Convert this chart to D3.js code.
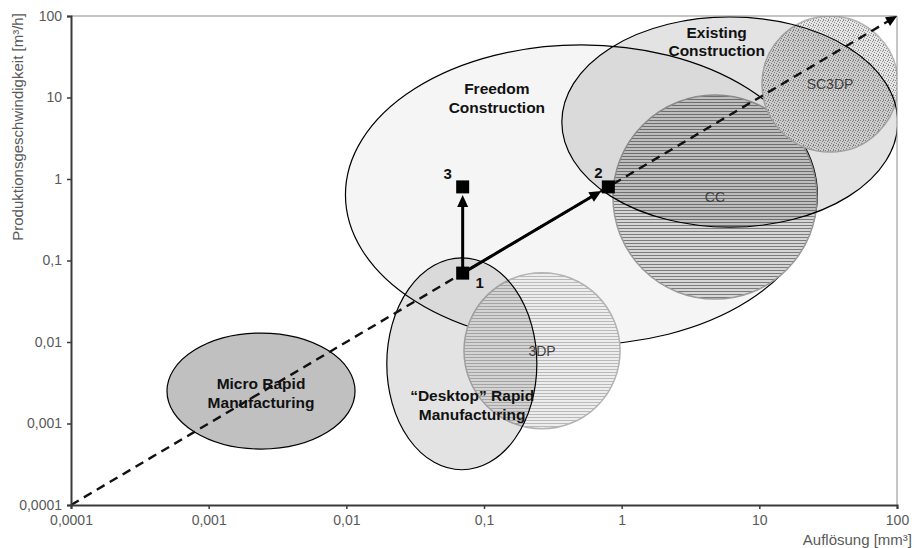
<!DOCTYPE html>
<html>
<head>
<meta charset="utf-8">
<script src="https://cdn.jsdelivr.net/npm/d3@7"></script>
<style>
  html, body { margin: 0; padding: 0; background: #fff; }
  svg { display: block; font-family: Arial, "Liberation Sans", sans-serif; }
</style>
</head>
<body>
<svg id="chart" width="917" height="548"></svg>
<script>
// Axis ticks (log decades) and their German-formatted labels
const tickValues = [0.0001, 0.001, 0.01, 0.1, 1, 10, 100];
const tickLabels = ["0,0001", "0,001", "0,01", "0,1", "1", "10", "100"];

// Manufacturing fields: centre (resolution, speed) and half-extent in decades
const zoneNames   = [["Freedom", "Construction"], ["Existing", "Construction"], ["Micro Rapid", "Manufacturing"], ["\u201CDesktop\u201D Rapid", "Manufacturing"]];
const zoneCentreX = [0.51, 6.1, 0.0024, 0.069];
const zoneCentreY = [0.64, 5.0, 0.0025, 0.0054];
const zoneSpanX   = [1.714, 1.22, 0.683, 0.545];
const zoneSpanY   = [1.84, 1.29, 0.712, 1.30];
const zoneLabelX  = [0.124, 4.9, 0.0024, 0.082];
const zoneLabelY  = [10, 49, 0.0024, 0.0017];

// Process technologies (hatched / stippled discs)
const techNames   = ["CC", "3DP", "SC3DP"];
const techCentreX = [4.76, 0.264, 32.6];
const techCentreY = [0.60, 0.0078, 14.6];
const techSpanX   = [0.741, 0.567, 0.494];
const techSpanY   = [1.252, 0.957, 0.834];

// Development steps 1 → 2 and 1 → 3
const stepNames = ["1", "2", "3"];
const stepX     = [0.07, 0.8, 0.07];
const stepY     = [0.07, 0.8, 0.8];
const stepMoves = [[0, 2], [0, 1]];

// Trend diagonal
const trendX = [0.0001, 100];
const trendY = [0.0001, 100];

const svg = d3.select("#chart");
const margin = { left: 71, right: 20, top: 16, bottom: 43 };
const W = 917, H = 548;

const x = d3.scaleLog().domain([0.0001, 100]).range([margin.left, W - margin.right]);
const y = d3.scaleLog().domain([0.0001, 100]).range([H - margin.bottom, margin.top]);

const fmt = d => tickLabels[tickValues.indexOf(d)];

// ---- fill patterns
const defs = svg.append("defs");
function hatch(id, bg, ink) {
  const p = defs.append("pattern").attr("id", id)
    .attr("patternUnits", "userSpaceOnUse").attr("width", 6).attr("height", 3);
  p.append("rect").attr("width", 6).attr("height", 3).attr("fill", bg);
  p.append("rect").attr("y", 0).attr("width", 6).attr("height", 1).attr("fill", ink);
}
hatch("hatchDark", "#d6d6d6", "#7c7c7c");
hatch("hatchLight", "#ededed", "#b9b9b9");

const stipple = defs.append("pattern").attr("id", "stipple")
  .attr("patternUnits", "userSpaceOnUse").attr("width", 5).attr("height", 5);
stipple.append("rect").attr("width", 5).attr("height", 5).attr("fill", "#e6e6e6");
[[0, 0], [2, 1], [4, 2], [1, 3], [3, 4], [3, 0]].forEach(([dx, dy]) =>
  stipple.append("rect").attr("x", dx).attr("y", dy).attr("width", 1).attr("height", 1)
    .attr("fill", "#8e8e8e"));

const techFill   = ["url(#hatchDark)", "url(#hatchLight)", "url(#stipple)"];
const techStroke = ["#9c9c9c", "#b3b3b3", "#b3b3b3"];

svg.append("clipPath").attr("id", "plotClip").append("rect")
  .attr("x", x(0.0001)).attr("y", y(100))
  .attr("width", x(100) - x(0.0001)).attr("height", y(0.0001) - y(100));
const area = svg.append("g").attr("clip-path", "url(#plotClip)");

// frame: light top/right border
svg.append("path")
  .attr("d", `M${x(0.0001)},${y(100)}H${x(100)}V${y(0.0001)}`)
  .attr("fill", "none").attr("stroke", "#8c8c8c").attr("stroke-width", 1);

function ellipse(g, cx, cy, sx, sy) {
  const px = x(cx), py = y(cy);
  const rx = x(cx * Math.pow(10, sx)) - px;
  const ry = py - y(cy * Math.pow(10, sy));
  return g.append("ellipse").attr("cx", px).attr("cy", py).attr("rx", rx).attr("ry", ry);
}
const zone = i => ellipse(area, zoneCentreX[i], zoneCentreY[i], zoneSpanX[i], zoneSpanY[i]);
const tech = i => ellipse(area, techCentreX[i], techCentreY[i], techSpanX[i], techSpanY[i])
  .attr("fill", techFill[i]).attr("stroke", techStroke[i]).attr("stroke-width", 1.5);

// layering: open field, micro field, technology discs, then translucent fields
zone(0).attr("fill", "#f5f5f5").attr("stroke", "#000").attr("stroke-width", 1.2);
zone(2).attr("fill", "#c0c0c0").attr("stroke", "#000").attr("stroke-width", 1.2);
tech(0); tech(1); tech(2);
zone(1).attr("fill", "rgba(0,0,0,0.11)").attr("stroke", "#000").attr("stroke-width", 1.2);
zone(3).attr("fill", "rgba(0,0,0,0.11)").attr("stroke", "#000").attr("stroke-width", 1.2);

// trend diagonal with arrow head
function head(g, x0, y0, x1, y1, len, half) {
  const a = Math.atan2(y1 - y0, x1 - x0);
  const bx = x1 - len * Math.cos(a), by = y1 - len * Math.sin(a);
  const nx = -Math.sin(a) * half, ny = Math.cos(a) * half;
  g.append("path")
    .attr("d", `M${x1},${y1}L${bx + nx},${by + ny}L${bx - nx},${by - ny}Z`)
    .attr("fill", "#000");
}
{
  const tx0 = x(trendX[0]), ty0 = y(trendY[0]), tx1 = x(trendX[1]), ty1 = y(trendY[1]);
  const a = Math.atan2(ty1 - ty0, tx1 - tx0);
  const ex = tx1 - 9 * Math.cos(a), ey = ty1 - 9 * Math.sin(a);
  svg.append("line").attr("x1", tx0).attr("y1", ty0).attr("x2", ex).attr("y2", ey)
    .attr("stroke", "#111").attr("stroke-width", 2.4).attr("stroke-dasharray", "9,6");
  head(svg, tx0, ty0, tx1, ty1, 11, 5);
}

// step arrows
stepMoves.forEach(([a, b]) => {
  const x0 = x(stepX[a]), y0 = y(stepY[a]);
  const cx = x(stepX[b]), cy = y(stepY[b]);
  const ang = Math.atan2(cy - y0, cx - x0);
  const x1 = cx - 8 * Math.cos(ang), y1 = cy - 8 * Math.sin(ang);
  const bx = x1 - 10 * Math.cos(ang), by = y1 - 10 * Math.sin(ang);
  svg.append("line").attr("x1", x0).attr("y1", y0).attr("x2", bx).attr("y2", by)
    .attr("stroke", "#000").attr("stroke-width", 3);
  head(svg, x0, y0, x1, y1, 12, 5.5);
});

// step markers
svg.selectAll("rect.step").data(stepNames).join("rect").attr("class", "step")
  .attr("x", (d, i) => x(stepX[i]) - 6.5).attr("y", (d, i) => y(stepY[i]) - 6.5)
  .attr("width", 13).attr("height", 13).attr("fill", "#000");
const stepDx = [17, -10, -15], stepDy = [9, -14, -13];
svg.selectAll("text.step").data(stepNames).join("text").attr("class", "step")
  .attr("x", (d, i) => x(stepX[i]) + stepDx[i]).attr("y", (d, i) => y(stepY[i]) + stepDy[i])
  .attr("text-anchor", "middle").attr("dominant-baseline", "central")
  .attr("font-size", 15).attr("font-weight", "bold").attr("fill", "#111").text(d => d);

// technology labels
techNames.forEach((n, i) => {
  svg.append("text").attr("x", x(techCentreX[i])).attr("y", y(techCentreY[i]))
    .attr("text-anchor", "middle").attr("dominant-baseline", "central")
    .attr("font-size", 14).attr("fill", "#3f3f3f").text(n);
});

// field labels
zoneNames.forEach((lines, i) => {
  const t = svg.append("text").attr("x", x(zoneLabelX[i])).attr("y", y(zoneLabelY[i]))
    .attr("text-anchor", "middle").attr("font-size", 15.5).attr("font-weight", "bold")
    .attr("fill", "#111");
  lines.forEach((s, k) => {
    t.append("tspan").attr("x", x(zoneLabelX[i]))
      .attr("dy", k === 0 ? "-0.22em" : "1.2em").text(s);
  });
});

// axes
const xAxis = svg.append("g").attr("transform", `translate(0,${y(0.0001)})`)
  .call(d3.axisBottom(x).tickValues(tickValues).tickFormat(fmt).tickSizeOuter(0).tickSize(4).tickPadding(6));
const yAxis = svg.append("g").attr("transform", `translate(${x(0.0001)},0)`)
  .call(d3.axisLeft(y).tickValues(tickValues).tickFormat(fmt).tickSizeOuter(0).tickSize(4).tickPadding(5));
[xAxis, yAxis].forEach(g => {
  g.select(".domain").attr("stroke", "#3a3a3a").attr("stroke-width", 2);
  g.selectAll(".tick line").attr("stroke", "#3a3a3a").attr("stroke-width", 1.5);
  g.selectAll(".tick text").attr("fill", "#595959").attr("font-size", 14)
    .attr("font-family", "Arial, 'Liberation Sans', sans-serif");
});

// axis titles
svg.append("text").attr("x", 912).attr("y", 545).attr("text-anchor", "end")
  .attr("font-size", 15).attr("fill", "#595959").text("Auflösung [mm³]");
svg.append("text").attr("transform", "translate(23,127) rotate(-90)")
  .attr("text-anchor", "middle").attr("font-size", 15).attr("fill", "#595959")
  .text("Produktionsgeschwindigkeit [m³/h]");
</script>
</body>
</html>
